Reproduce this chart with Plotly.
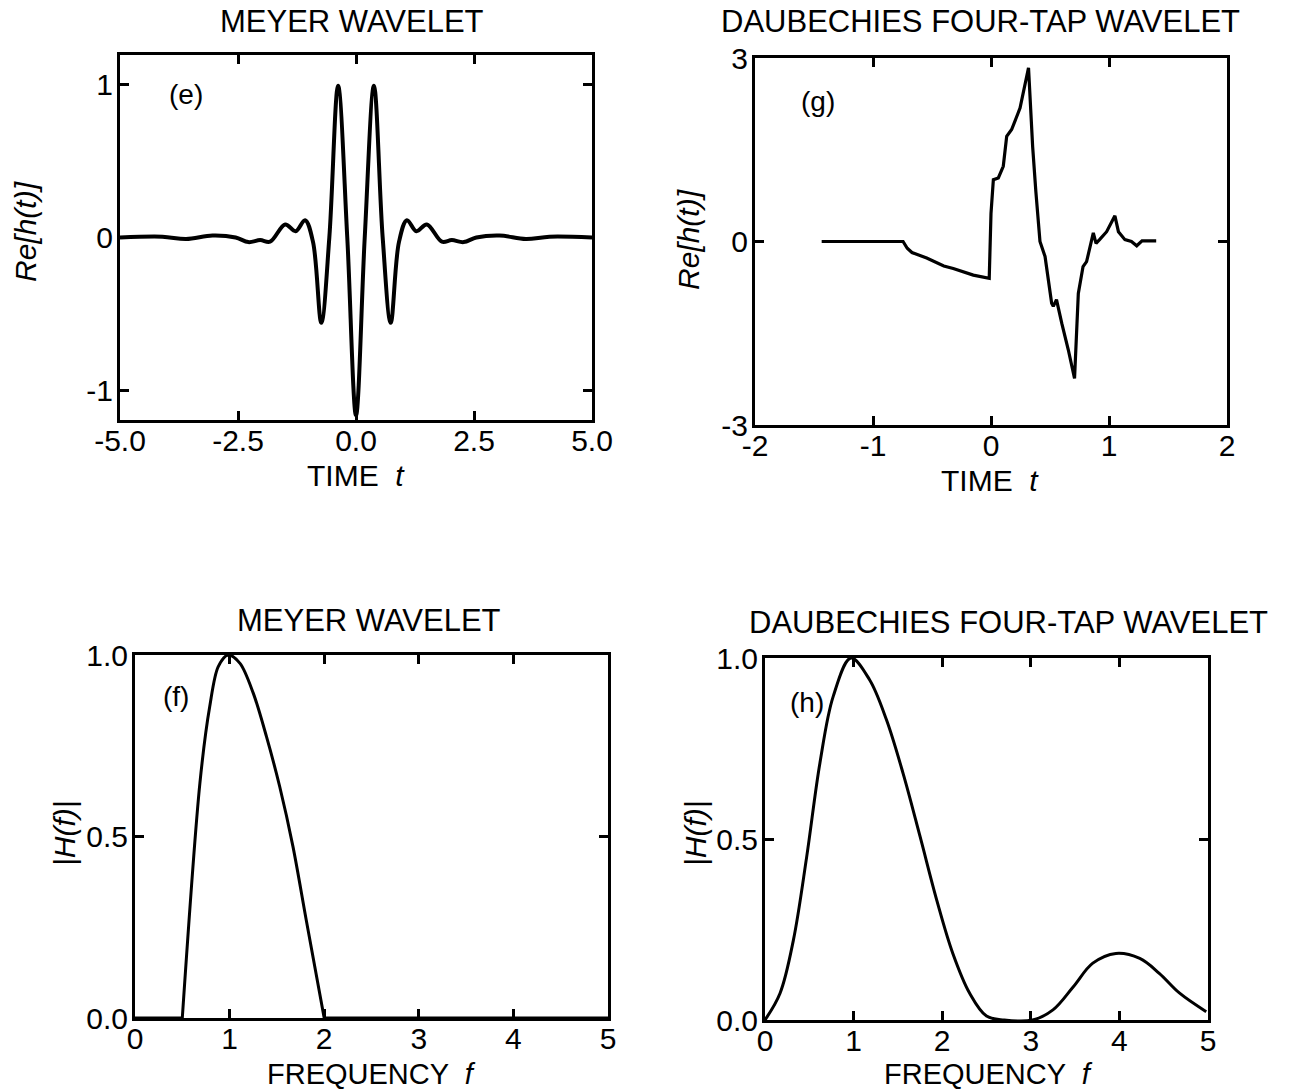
import plotly.graph_objects as go

# ---- Meyer wavelet, time domain: Re[h(t)] ----
meyer_t = [-5.0, -4.1, -3.6, -3.04, -2.55, -2.28, -2.03, -1.82, -1.50, -1.28, -1.08,
           -0.91, -0.735, -0.565, -0.38, -0.185, 0.0, 0.185, 0.38, 0.565, 0.735, 0.91,
           1.08, 1.28, 1.50, 1.82, 2.03, 2.28, 2.55, 3.04, 3.6, 4.1, 5.0]
meyer_re = [0.0, 0.005, -0.01, 0.013, 0.0, -0.03, -0.017, -0.027, 0.085, 0.041, 0.113,
            -0.03, -0.556, 0.0, 0.99, 0.0, -1.16, 0.0, 0.99, 0.0, -0.556, -0.03,
            0.113, 0.041, 0.085, -0.027, -0.017, -0.03, 0.0, 0.013, -0.01, 0.005, 0.0]

# ---- Daubechies four-tap wavelet, time domain ----
daub_t = [-1.435, -0.745, -0.71, -0.67, -0.545, -0.40, -0.32, -0.15, -0.015, 0.0, 0.02,
          0.062, 0.104, 0.133, 0.175, 0.246, 0.318, 0.353, 0.38, 0.415, 0.458, 0.514,
          0.528, 0.555, 0.60, 0.655, 0.708, 0.74, 0.78, 0.81, 0.867, 0.89, 0.92, 0.98,
          1.05, 1.08, 1.135, 1.19, 1.235, 1.28, 1.40]
daub_re = [0.0, 0.0, -0.11, -0.18, -0.27, -0.40, -0.44, -0.55, -0.60, 0.46, 1.01,
           1.04, 1.23, 1.72, 1.83, 2.18, 2.84, 1.55, 0.82, 0.0, -0.245, -1.01,
           -1.06, -0.95, -1.34, -1.77, -2.24, -0.85, -0.41, -0.33, 0.14, -0.03, 0.03, 0.16,
           0.42, 0.16, 0.03, 0.0, -0.07, 0.01, 0.01]

# ---- Meyer wavelet, spectrum |H(f)|: zero outside the band [0.5, 2] ----
meyer_stop_f = [0.0, 0.5, None, 2.0, 5.0]
meyer_stop_h = [0.0, 0.0, None, 0.0, 0.0]
meyer_f = [0.5, 0.686, 0.79, 0.88, 0.985, 1.11, 1.25, 1.39, 1.53, 1.67, 1.81, 2.0]
meyer_h = [0.0, 0.647, 0.858, 0.968, 1.0, 0.977, 0.895, 0.775, 0.637, 0.472, 0.27, 0.0]

# ---- Daubechies four-tap wavelet, spectrum |H(f)| ----
daub_f = [0.0, 0.17, 0.32, 0.47, 0.62, 0.77, 0.97, 1.18, 1.37, 1.56, 1.75, 1.94, 2.12,
          2.31, 2.5, 2.7, 3.02, 3.25, 3.48, 3.70, 3.96, 4.23, 4.45, 4.68, 4.98]
daub_h = [0.0, 0.074, 0.22, 0.45, 0.71, 0.894, 1.0, 0.94, 0.83, 0.68, 0.507, 0.33, 0.184,
          0.074, 0.011, 0.0, 0.0, 0.028, 0.092, 0.157, 0.184, 0.17, 0.129, 0.074, 0.023]

# tick values / labels
e_xticks = [-5.0, -2.5, 0.0, 2.5, 5.0]
e_xlabels = ["-5.0", "-2.5", "0.0", "2.5", "5.0"]
e_yticks = [-1, 0, 1]
e_ylabels = ["-1", "0", "1"]
g_xticks = [-2, -1, 0, 1, 2]
g_xlabels = ["-2", "-1", "0", "1", "2"]
g_yticks = [-3, 0, 3]
g_ylabels = ["-3", "0", "3"]
spec_xticks = [0, 1, 2, 3, 4, 5]
spec_yticks = [0.0, 0.5, 1.0]
spec_ylabels = ["0.0", "0.5", "1.0"]

W, H = 1290, 1092
FONT = "Liberation Sans, Arial, Helvetica, sans-serif"


def px_x(x):
    return x / W


def px_y(y):
    return 1 - y / H


fig = go.Figure()
fig.add_trace(go.Scatter(x=meyer_t, y=meyer_re, mode="lines", xaxis="x", yaxis="y",
                         line=dict(color="black", width=4, shape="spline", smoothing=1.0)))
fig.add_trace(go.Scatter(x=daub_t, y=daub_re, mode="lines", xaxis="x2", yaxis="y2",
                         line=dict(color="black", width=3.2)))
fig.add_trace(go.Scatter(x=meyer_stop_f, y=meyer_stop_h, mode="lines", xaxis="x3", yaxis="y3",
                         line=dict(color="black", width=3)))
fig.add_trace(go.Scatter(x=meyer_f, y=meyer_h, mode="lines", xaxis="x3", yaxis="y3",
                         line=dict(color="black", width=3, shape="spline", smoothing=0.9)))
fig.add_trace(go.Scatter(x=daub_f, y=daub_h, mode="lines", xaxis="x4", yaxis="y4",
                         line=dict(color="black", width=3, shape="spline", smoothing=1.0)))

axis_common = dict(showline=True, linecolor="black", linewidth=3, mirror="ticks",
                   ticks="inside", ticklen=9, tickwidth=2.5, tickcolor="black",
                   showgrid=False, zeroline=False, automargin=False,
                   tickfont=dict(family=FONT, size=30, color="black"))
x_common = dict(axis_common, ticklabelstandoff=-8)
y_common = dict(axis_common, ticklabelstandoff=-2)

# panel frames in pixels: (left, right, top, bottom)
frames = {
    "e": (120, 592, 55, 420),
    "g": (755, 1227, 58, 425),
    "f": (135, 608, 655, 1018),
    "h": (765, 1208, 658, 1020),
}


def dom(key):
    l, r, t, b = frames[key]
    return [px_x(l), px_x(r)], [px_y(b), px_y(t)]


dx, dy = dom("e")
fig.update_layout(
    xaxis=dict(domain=dx, range=[-5, 5], tickvals=e_xticks, ticktext=e_xlabels, anchor="y", **x_common),
    yaxis=dict(domain=dy, range=[-1.19, 1.19], tickvals=e_yticks, ticktext=e_ylabels, anchor="x", **y_common),
)
dx, dy = dom("g")
fig.update_layout(
    xaxis2=dict(domain=dx, range=[-2, 2], tickvals=g_xticks, ticktext=g_xlabels, anchor="y2", **x_common),
    yaxis2=dict(domain=dy, range=[-3, 3], tickvals=g_yticks, ticktext=g_ylabels, anchor="x2", **y_common),
)
dx, dy = dom("f")
fig.update_layout(
    xaxis3=dict(domain=dx, range=[0, 5], tickvals=spec_xticks, anchor="y3", **x_common),
    yaxis3=dict(domain=dy, range=[0, 1], tickvals=spec_yticks, ticktext=spec_ylabels, anchor="x3", **y_common),
)
dx, dy = dom("h")
fig.update_layout(
    xaxis4=dict(domain=dx, range=[0, 5], tickvals=spec_xticks, anchor="y4", **x_common),
    yaxis4=dict(domain=dy, range=[0, 1], tickvals=spec_yticks, ticktext=spec_ylabels, anchor="x4", **y_common),
)

annotations = []


def text_at(x, y, s, size=31, angle=0):
    annotations.append(dict(x=px_x(x), y=px_y(y), xref="paper", yref="paper", text=s,
                            showarrow=False, textangle=angle, xanchor="center", yanchor="middle",
                            font=dict(family=FONT, size=size, color="black")))


# panel titles
text_at(352, 21, "MEYER WAVELET")
text_at(980, 21, "DAUBECHIES FOUR-TAP WAVELET")
text_at(369, 620, "MEYER WAVELET")
text_at(1008, 622, "DAUBECHIES FOUR-TAP WAVELET")

# axis titles
text_at(356, 475, "TIME  <i>t</i>", size=30)
text_at(990, 480, "TIME  <i>t</i>", size=30)
text_at(371, 1074, "FREQUENCY  <i>f</i>", size=29)
text_at(988, 1074, "FREQUENCY  <i>f</i>", size=29)
text_at(25, 232, "<i>Re[h(t)]</i>", size=30, angle=-90)
text_at(688, 240, "<i>Re[h(t)]</i>", size=30, angle=-90)
text_at(64, 833, "<i>|H(f)|</i>", size=30, angle=-90)
text_at(695, 833, "<i>|H(f)|</i>", size=30, angle=-90)

# panel letters in data coordinates
for ax, (x, y, s) in zip(["", "2", "3", "4"],
                         [(-3.6, 0.93, "(e)"), (-1.47, 2.29, "(g)"),
                          (0.43, 0.885, "(f)"), (0.47, 0.876, "(h)")]):
    annotations.append(dict(x=x, y=y, xref="x" + ax, yref="y" + ax, text=s, showarrow=False,
                            xanchor="center", yanchor="middle",
                            font=dict(family=FONT, size=28, color="black")))

fig.update_layout(annotations=annotations, width=W, height=H, showlegend=False,
                  margin=dict(l=0, r=0, t=0, b=0),
                  paper_bgcolor="white", plot_bgcolor="white")

fig.write_html("out.html")
